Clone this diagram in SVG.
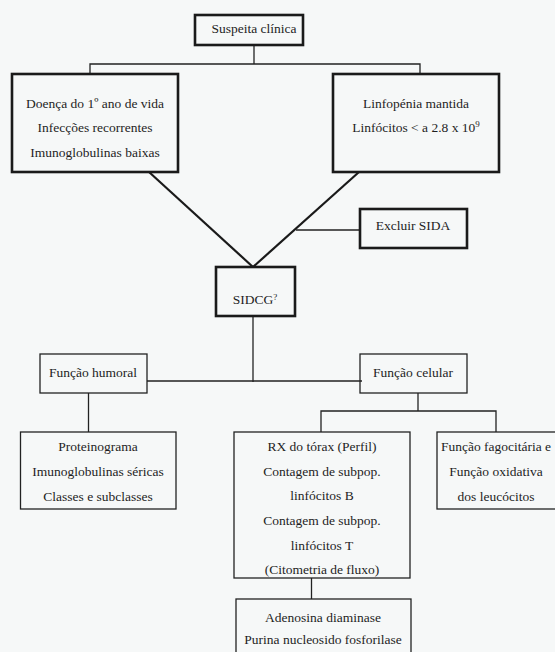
<svg xmlns="http://www.w3.org/2000/svg" width="555" height="652" viewBox="0 0 555 652" font-family="Liberation Serif, Times New Roman, DejaVu Serif, serif">
<style>
text{font-family:'Liberation Serif','Times New Roman','DejaVu Serif',serif;font-size:13.5px;fill:#1e1e1e;text-anchor:middle}
.thick{fill:none;stroke:#1a1a1a;stroke-width:2.6}
.thin{fill:none;stroke:#222;stroke-width:1.3}
.diag{fill:none;stroke:#1a1a1a;stroke-width:2.2}
.con{fill:none;stroke:#222;stroke-width:1.3}
</style>
<rect x="0" y="0" width="555" height="652" fill="#f6f8f8"/>
<g id="connectors">
<polyline class="con" points="254,45 254,64"/>
<polyline class="con" points="90,74 90,64 420,64 420,74"/>
<line class="diag" x1="149" y1="172" x2="253" y2="267"/>
<line class="diag" x1="359" y1="172" x2="253" y2="267"/>
<line class="con" x1="296" y1="230" x2="360" y2="230"/>
<line class="con" x1="253" y1="316" x2="253" y2="382"/>
<line class="con" x1="147" y1="381" x2="362" y2="381"/>
<line class="con" x1="88.5" y1="393" x2="88.5" y2="432"/>
<line class="con" x1="418" y1="393" x2="418" y2="411"/>
<polyline class="con" points="321,432 321,411 496,411 496,432"/>
<line class="con" x1="311.5" y1="578" x2="311.5" y2="599"/>
</g>
<g id="suspeita">
<rect class="thick" x="195" y="15" width="108" height="30"/>
<text x="254" y="33">Suspeita clínica</text>
</g>
<g id="doenca">
<rect class="thick" x="12" y="74" width="166" height="98"/>
<text x="95" y="108">Doença do 1º ano de vida</text>
<text x="95" y="132">Infecções recorrentes</text>
<text x="95" y="157">Imunoglobulinas baixas</text>
</g>
<g id="linfopenia">
<rect class="thick" x="333" y="74" width="166" height="98"/>
<text x="416" y="108">Linfopénia mantida</text>
<text x="416" y="132">Linfócitos &lt; a 2.8 x 10<tspan font-size="9" dy="-5">9</tspan></text>
</g>
<g id="excluir">
<rect class="thick" x="360" y="209" width="107" height="39"/>
<text x="413" y="230">Excluir SIDA</text>
</g>
<g id="sidcg">
<rect class="thick" x="216" y="267" width="79" height="49"/>
<text x="255" y="304">SIDCG<tspan font-size="9" dy="-4">?</tspan></text>
</g>
<g id="humoral">
<rect class="thin" x="40" y="354" width="107" height="39"/>
<text x="93" y="377">Função humoral</text>
</g>
<g id="celular">
<rect class="thin" x="360" y="354" width="107" height="39"/>
<text x="413" y="377">Função celular</text>
</g>
<g id="proteinograma">
<rect class="thin" x="20.5" y="432" width="155.5" height="77"/>
<text x="98" y="451">Proteinograma</text>
<text x="98" y="476">Imunoglobulinas séricas</text>
<text x="98" y="501">Classes e subclasses</text>
</g>
<g id="rx">
<rect class="thin" x="234" y="432" width="176" height="146"/>
<text x="322" y="451">RX do tórax (Perfil)</text>
<text x="322" y="476">Contagem de subpop.</text>
<text x="322" y="500">linfócitos B</text>
<text x="322" y="525">Contagem de subpop.</text>
<text x="322" y="550">linfócitos T</text>
<text x="322" y="574">(Citometria de fluxo)</text>
</g>
<g id="fagocitaria">
<rect class="thin" x="437" y="432" width="122" height="77"/>
<text x="496" y="451">Função fagocitária e</text>
<text x="496" y="476">Função oxidativa</text>
<text x="496" y="501">dos leucócitos</text>
</g>
<g id="adenosina">
<rect class="thin" x="236" y="599" width="175" height="70"/>
<text x="323" y="622">Adenosina diaminase</text>
<text x="323" y="644">Purina nucleosido fosforilase</text>
</g>
</svg>
